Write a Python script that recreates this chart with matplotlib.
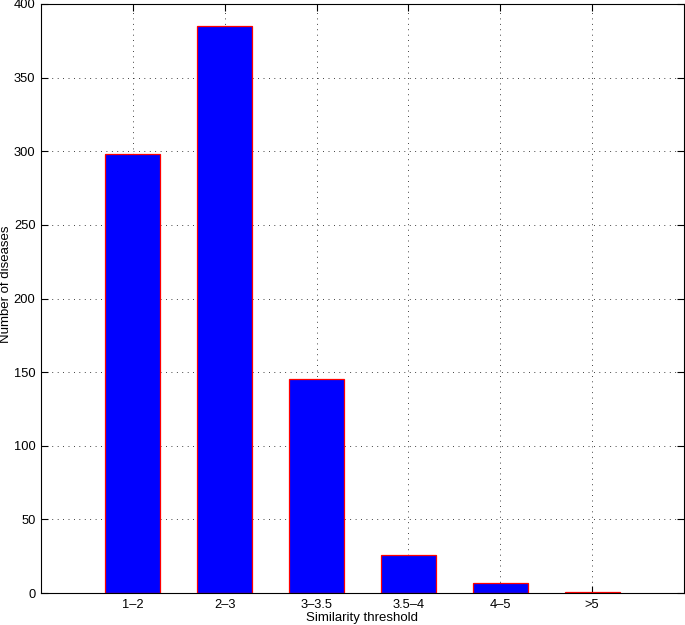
import numpy as np
import matplotlib
matplotlib.use('Agg')
import matplotlib.pyplot as plt
from matplotlib.ticker import MultipleLocator

plt.rcParams['font.family'] = ['Liberation Sans', 'DejaVu Sans']
plt.rcParams['font.size'] = 9.3

# data
categories = ['1\u20132', '2\u20133', '3\u20133.5', '3.5\u20134', '4\u20135', '>5']
counts = [298, 385, 145, 26, 7, 1]

x = np.arange(1, len(categories) + 1)

W, H = 685, 625
fig = plt.figure(figsize=(W / 100, H / 100), dpi=100)
ax = fig.add_axes([41 / W, 32 / H, (684 - 41) / W, (593 - 4) / H])

ax.bar(x, counts, width=0.6, color='#0000ff', edgecolor='red', linewidth=0.9, zorder=3)

ax.set_xlim(0, 7)
ax.set_ylim(0, 400)
ax.set_xticks(x)
ax.set_xticklabels(categories)
ax.yaxis.set_major_locator(MultipleLocator(50))

ax.set_xlabel('Similarity threshold', fontsize=9.5, labelpad=1)
ax.set_ylabel('Number of diseases', fontsize=9.5)
ax.yaxis.set_label_coords(-0.045, 0.524)

# matlab style box + dotted grid
ax.grid(True, linestyle=(0, (1, 5.5)), color='black', linewidth=0.6, zorder=0)
ax.tick_params(direction='in', length=5, width=0.8, top=True, right=True, pad=4)
for spine in ax.spines.values():
    spine.set_linewidth(0.8)
    spine.set_zorder(4)

fig.savefig('out.png', dpi=100)
